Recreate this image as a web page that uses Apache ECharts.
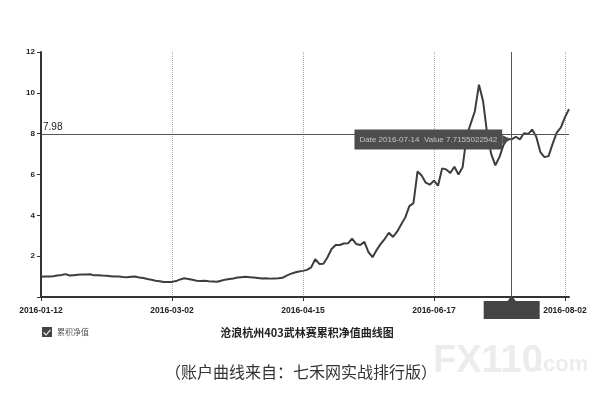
<!DOCTYPE html>
<html>
<head>
<meta charset="utf-8">
<script src="https://cdn.jsdelivr.net/npm/echarts@6/dist/echarts.min.js"></script>
<style>
html,body{margin:0;padding:0;background:#fff;}
#main{width:610px;height:409px;}
</style>
</head>
<body>
<div id="main"></div>
<script>
// ---- data ----
const tickLabels = ['2016-01-12', '2016-03-02', '2016-04-15', '2016-06-17', '2016-08-02'];
const labelStep = 32;
const netValues = [
  0.99,1.00,1.00,1.02,1.05,1.08,1.12,1.05,1.07,1.09,1.10,1.10,1.11,1.06,1.07,1.05,1.04,1.02,1.00,1.01,0.98,0.97,0.99,1.00,0.96,0.93,0.88,0.84,0.80,0.77,0.74,0.73,0.74,
  0.78,0.86,0.92,0.88,0.84,0.80,0.78,0.80,0.77,0.76,0.75,0.80,0.85,0.88,0.91,0.95,0.97,0.99,0.97,0.95,0.93,0.91,0.92,0.90,0.91,0.92,0.94,1.05,1.13,1.20,1.25,1.28,
  1.33,1.45,1.85,1.62,1.63,1.95,2.35,2.55,2.55,2.62,2.63,2.86,2.60,2.55,2.70,2.20,1.95,2.30,2.60,2.85,3.15,2.94,3.20,3.55,3.90,4.45,4.60,6.15,5.95,5.60,5.50,5.70,
  5.45,6.30,6.25,6.07,6.38,6.00,6.35,7.90,8.50,9.10,10.40,9.60,8.00,7.00,6.45,6.85,7.45,7.75,7.72,7.85,7.72,8.02,7.98,8.20,7.85,7.10,6.85,6.90,7.50,8.05,8.30,8.80,9.20
];
const seriesName = '累积净值';
const refLine = 7.98;
const pointerIndex = 115;
const pointerDate = '2016-07-14';
const pointerValue = '7.7155022542';
const chartTitle = '沧浪杭州403武林赛累积净值曲线图';
const caption = '（账户曲线来自：七禾网实战排行版）';

const categories = netValues.map((_, i) => i);
const onStep = i => i % labelStep === 0;

const chart = echarts.init(document.getElementById('main'), null, {renderer: 'canvas'});
const checkIcon = 'path://M0,0 L10,0 L10,10 L0,10 Z M1.2,5.8 L4,8.8 L8.8,3.3 L8,2.5 L4,7.2 L2,5 Z';

chart.setOption({
  animation: false,
  backgroundColor: '#fff',
  grid: {left: 41, right: 41, top: 52, bottom: 112, containLabel: false},
  title: [
    {text: chartTitle, left: 307, top: 327, textAlign: 'center',
     textStyle: {fontFamily: 'Noto Sans CJK SC', fontSize: 11, fontWeight: 'bold', color: '#222'}, padding: 0},
    {text: caption, left: 301, top: 364, textAlign: 'center',
     textStyle: {fontFamily: 'Noto Sans CJK SC', fontSize: 16, fontWeight: 'normal', color: '#333'}, padding: 0}
  ],
  legend: {
    left: 42, top: 327, itemWidth: 10, itemHeight: 10, itemGap: 5, padding: 0,
    icon: checkIcon,
    data: [seriesName],
    textStyle: {fontFamily: 'Noto Sans CJK SC', fontSize: 8, color: '#555'}
  },
  xAxis: {
    type: 'category',
    data: categories,
    boundaryGap: false,
    axisLine: {lineStyle: {color: '#333', width: 2}},
    axisTick: {show: true, interval: onStep, length: 4, lineStyle: {color: '#333', width: 1}},
    axisLabel: {
      interval: 0, margin: 9, showMaxLabel: false,
      fontFamily: 'Liberation Sans', fontSize: 8.5, fontWeight: 'bold', color: '#222',
      formatter: (v, i) => (onStep(i) ? tickLabels[i / labelStep] : '')
    },
    splitLine: {show: true, interval: onStep, lineStyle: {color: '#aaa', type: 'dotted', width: 1}}
  },
  yAxis: {
    type: 'value', min: 0, max: 12, interval: 2,
    axisLine: {show: true, lineStyle: {color: '#333', width: 2}},
    axisTick: {show: true, length: 4, lineStyle: {color: '#333', width: 1}},
    axisLabel: {margin: 6, fontFamily: 'Liberation Sans', fontSize: 8, fontWeight: 'bold', color: '#222',
      formatter: v => (v === 0 ? '' : v)},
    splitLine: {show: false}
  },
  series: [{
    name: seriesName,
    type: 'line',
    data: netValues,
    showSymbol: false,
    symbol: 'none',
    itemStyle: {color: '#444'},
    lineStyle: {color: '#3d3d3d', width: 2},
    markLine: {
      silent: true,
      symbol: ['none', 'none'],
      lineStyle: {color: '#555', width: 1, type: 'solid'},
      data: [
        {yAxis: refLine, label: {show: true, position: 'insideStartTop', formatter: String(refLine),
          fontFamily: 'Liberation Sans', fontSize: 10, color: '#222', distance: 2}},
        {xAxis: pointerIndex, label: {show: false}}
      ]
    },
    markPoint: {
      silent: true,
      data: [
        {coord: [pointerIndex, Number(pointerValue)], symbol: 'triangle', symbolSize: 9, symbolRotate: -90,
         symbolOffset: [-5, 0], itemStyle: {color: '#4d4d4d'},
         label: {show: true, position: 'left', distance: 0, backgroundColor: '#4d4d4d', color: '#c4c4c4',
           padding: [6, 5], fontFamily: 'Liberation Sans', fontSize: 8,
           formatter: 'Date ' + pointerDate + '  Value ' + pointerValue}},
        {coord: [pointerIndex, 0], symbol: 'triangle', symbolSize: [8, 6], symbolOffset: [0, 1],
         itemStyle: {color: '#444'},
         label: {show: true, position: 'bottom', distance: 0, backgroundColor: '#444', width: 56, height: 18,
           padding: 0, formatter: ' ', color: '#444'}}
      ]
    }
  }],
  graphic: [
    {type: 'text', left: 433, top: 343, silent: true, z: -1,
     style: {text: 'FX110', font: 'bold 38px "Liberation Sans"', fill: '#ececec'}},
    {type: 'text', left: 537, top: 354, silent: true, z: -1,
     style: {text: '.com', font: 'bold 22px "Liberation Sans"', fill: '#ececec'}}
  ]
});
</script>
</body>
</html>
